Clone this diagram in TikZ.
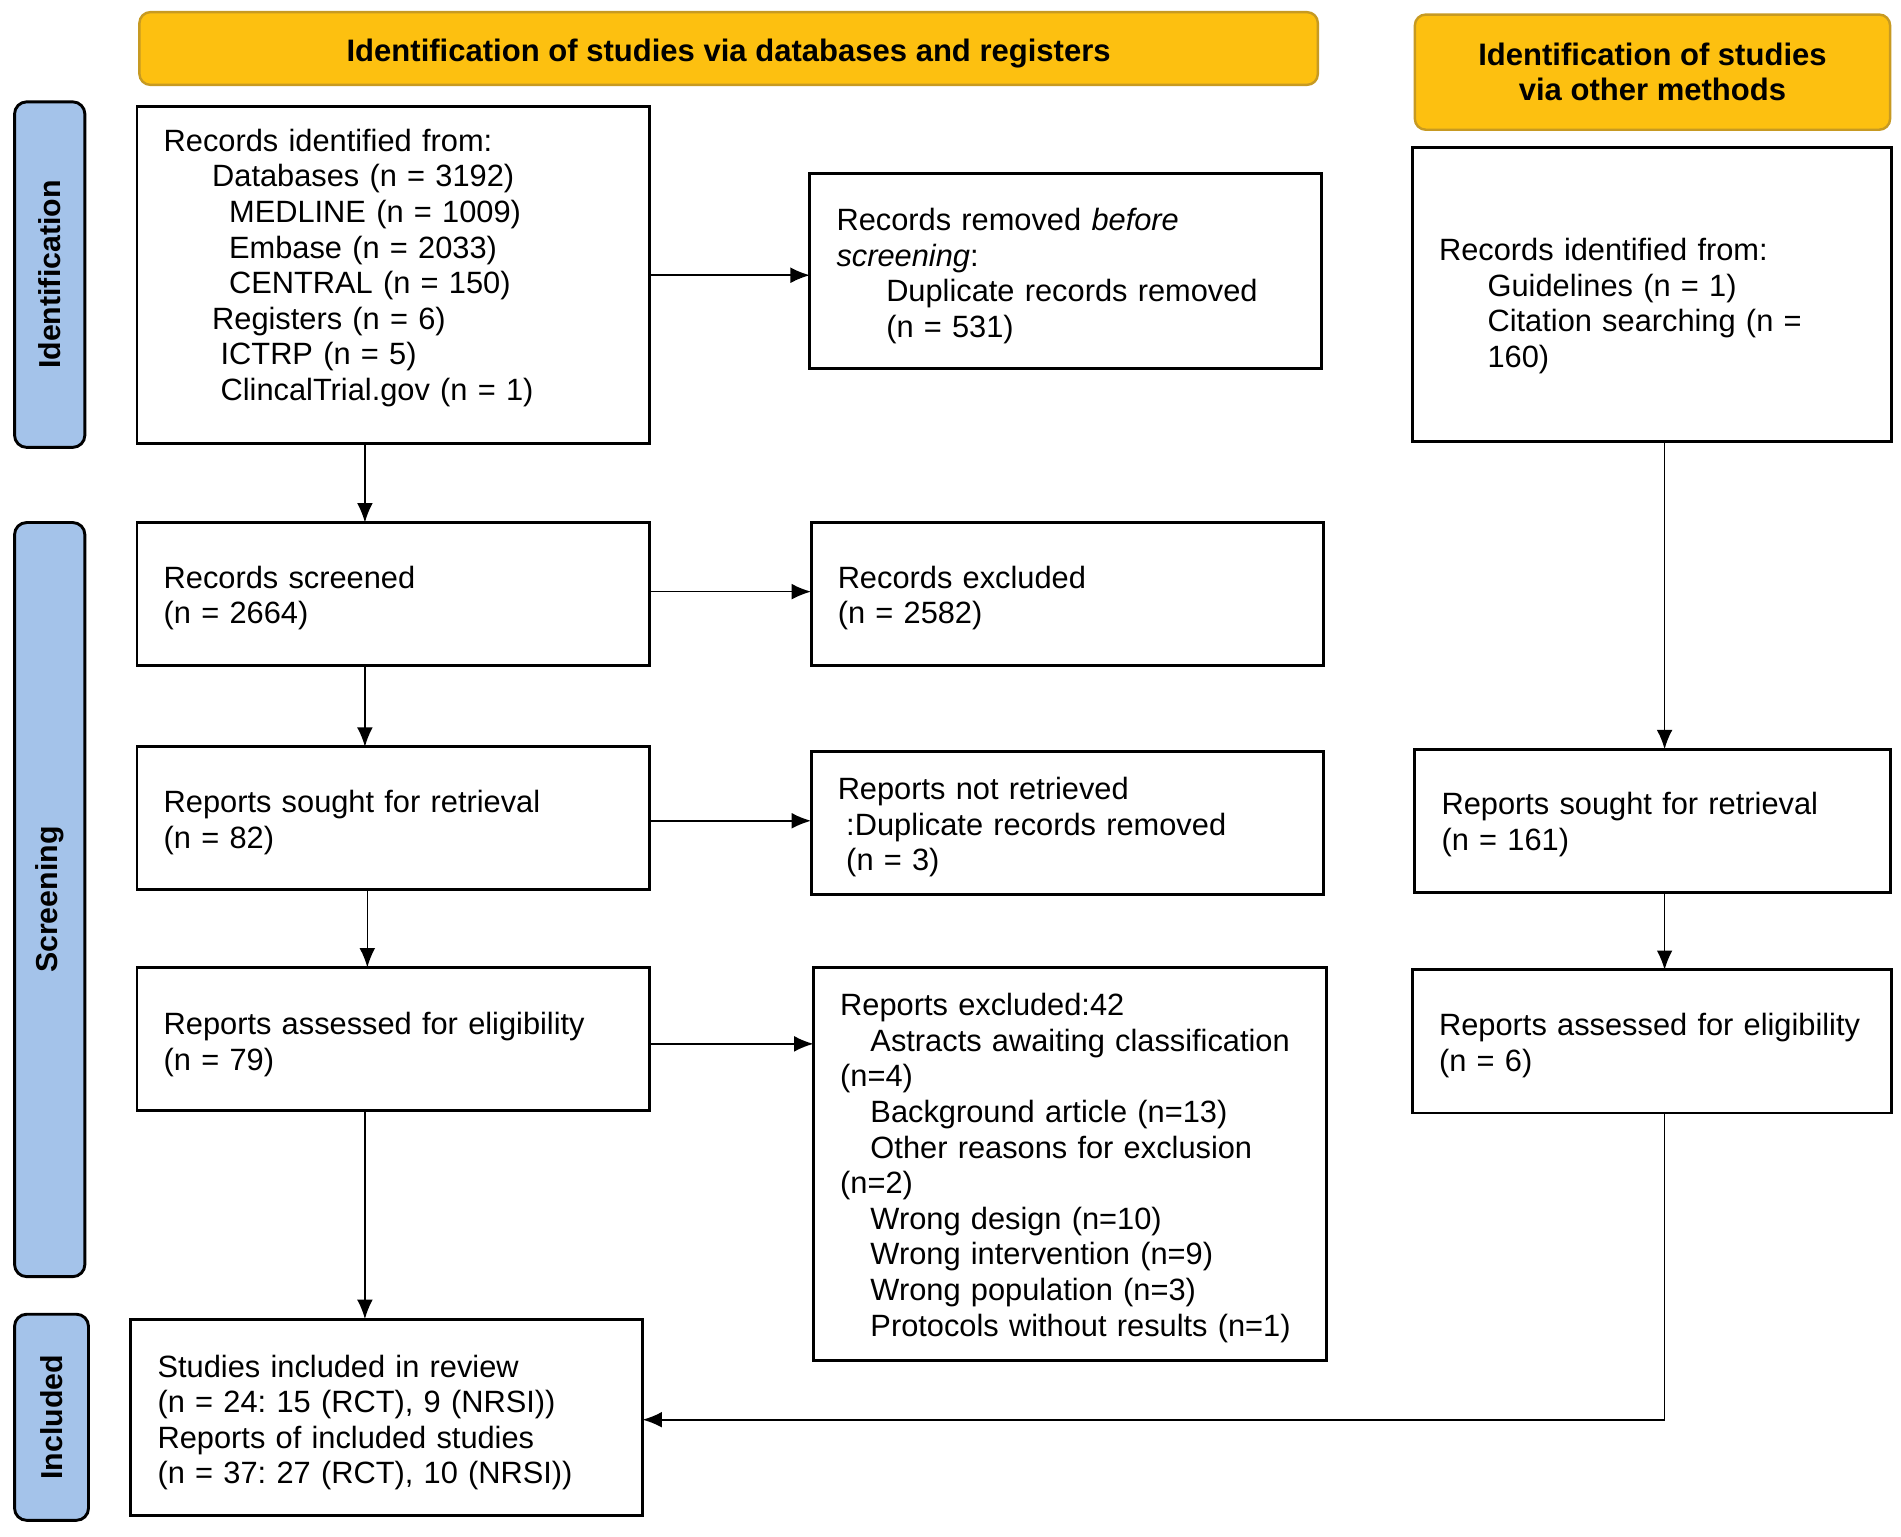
\documentclass[tikz,border=0pt]{standalone}
\usepackage{fontspec}
\setmainfont{Liberation Sans}
\usetikzlibrary{arrows.meta,calc}
\definecolor{hdrfill}{HTML}{FDC010}
\definecolor{hdrline}{HTML}{C79A22}
\definecolor{sidefill}{HTML}{A4C3EA}
% strut that pushes a centred text block down by #1 pt
\newcommand\pushdn[1]{\rule{0pt}{\dimexpr19pt+#1pt+#1pt\relax}}
% strut that pushes a centred text block up by #1 pt
\newcommand\pushup[1]{\rule[-\dimexpr5.4pt+#1pt+#1pt\relax]{0pt}{0pt}}
\frenchspacing
\begin{document}
\begin{tikzpicture}[x=1pt,y=1pt,
  every node/.style={inner sep=0pt, outer sep=0pt},
  box/.style={draw=black, line width=2.4pt, fill=white, inner xsep=22pt,
    align=left, font=\fontsize{25.4pt}{29.4pt}\selectfont\frenchspacing},
  hdr/.style={draw=hdrline, line width=2pt, fill=hdrfill, rounded corners=9pt,
    align=center, font=\fontsize{25.6pt}{29.2pt}\selectfont\bfseries},
  side/.style={draw=black, line width=2.4pt, fill=sidefill, rounded corners=10pt},
  sidetxt/.style={rotate=90, font=\fontsize{25pt}{29pt}\selectfont\bfseries},
  arr/.style={draw=black, line width=1.4pt, -{Latex[length=16pt,width=13pt]}},
  lnk/.style={draw=black, line width=1.4pt}
]
\useasboundingbox (0,0) rectangle (1568,-1267);

% headers
\node[hdr, minimum width=972pt, minimum height=60pt] (h1) at (601,-40) {\pushdn{4}Identification of studies via databases and registers};
\node[hdr, minimum width=392pt, minimum height=95pt] (h2) at (1363,-59.5) {Identification of studies\\via other methods};

% side bars
\node[side, minimum width=58pt, minimum height=285pt] (s1) at (41,-226.5) {};
\node[sidetxt] (s1t) at (s1.center) {Identification};
\node[side, minimum width=58pt, minimum height=622pt] (s2) at (41,-742) {};
\node[sidetxt] (s2t) at (s2.center) {Screening};
\node[side, minimum width=61pt, minimum height=170pt] (s3) at (42.5,-1169) {};
\node[sidetxt] (s3t) at (s3.center) {Included};

% left column
\node[box, text width=379pt, minimum height=278pt] (b1) at (324.5,-227) {Records identified from:\\
\hspace*{40pt}Databases (n = 3192)\\
\hspace*{54pt}MEDLINE (n = 1009)\\
\hspace*{54pt}Embase (n = 2033)\\
\hspace*{54pt}CENTRAL (n = 150)\\
\hspace*{40pt}Registers (n = 6)\\
\hspace*{47pt}ICTRP (n = 5)\\
\hspace*{47pt}ClincalTrial.gov (n = 1)\pushup{6}};

\node[box, text width=378pt, minimum height=161pt] (b2) at (879,-223.5) {\pushdn{4}Records removed \textit{before}\\
\textit{screening}:\\
\hspace*{41pt}Duplicate records removed\\
\hspace*{41pt}(n = 531)};

\node[box, text width=379pt, minimum height=118pt] (b3) at (324.5,-490) {\pushdn{3}Records screened\\(n = 2664)};
\node[box, text width=379pt, minimum height=118pt] (b4) at (880.5,-490) {\pushdn{3}Records excluded\\(n = 2582)};

\node[box, text width=379pt, minimum height=118pt] (b5) at (324.5,-675) {\pushdn{3}Reports sought for retrieval\\(n = 82)};
\node[box, text width=379pt, minimum height=118pt] (b6) at (880.5,-679) {\pushdn{3}Reports not retrieved\\
\hspace*{7pt}:Duplicate records removed\\
\hspace*{7pt}(n = 3)};

\node[box, text width=379pt, minimum height=118pt] (b7) at (324.5,-857) {\pushdn{4}Reports assessed for eligibility\\(n = 79)};
\node[box, text width=379pt, minimum height=324pt] (b8) at (882.5,-960) {\pushdn{3}Reports excluded:42\\
\hspace*{25pt}Astracts awaiting classification\\
(n=4)\\
\hspace*{25pt}Background article (n=13)\\
\hspace*{25pt}Other reasons for exclusion\\
(n=2)\\
\hspace*{25pt}Wrong design (n=10)\\
\hspace*{25pt}Wrong intervention (n=9)\\
\hspace*{25pt}Wrong population (n=3)\\
\hspace*{25pt}Protocols without results (n=1)};

\node[box, text width=378pt, minimum height=162pt] (b9) at (319,-1169) {\pushdn{4}Studies included in review\\
(n = 24: 15 (RCT), 9 (NRSI))\\
Reports of included studies\\
(n = 37: 27 (RCT), 10 (NRSI))};

% right column
\node[box, text width=351pt, minimum height=242pt] (r1) at (1362.5,-243) {\pushdn{9}Records identified from:\\
\hspace*{40pt}Guidelines (n = 1)\\
\hspace*{40pt}Citation searching (n =\\
\hspace*{40pt}160)};
\node[box, text width=348pt, minimum height=118pt] (r2) at (1363,-677) {\pushdn{3}Reports sought for retrieval\\(n = 161)};
\node[box, text width=351pt, minimum height=118pt] (r3) at (1362.5,-859) {\pushdn{3}Reports assessed for eligibility\\(n = 6)};

% connectors
\draw[arr] (b1.east) -- (b1.east -| b2.west);
\draw[arr] ([xshift=-23.5pt]b1.south) -- ([xshift=-23.5pt]b3.north);
\draw[arr] ([yshift=2pt]b3.east) -- ([yshift=2pt]b3.east -| b4.west);
\draw[arr] ([xshift=-23.5pt]b3.south) -- ([xshift=-23.5pt]b5.north);
\draw[arr] ([yshift=-2pt]b5.east) -- ([yshift=-2pt]b5.east -| b6.west);
\draw[arr] ([xshift=-21.5pt]b5.south) -- ([xshift=-21.5pt]b7.north);
\draw[arr] ([yshift=-4pt]b7.east) -- ([yshift=-4pt]b7.east -| b8.west);
\draw[arr] ([xshift=-23.5pt]b7.south) -- ([xshift=-18pt]b9.north);
\draw[arr] ([xshift=10.5pt]r1.south) -- ([xshift=10pt]r2.north);
\draw[arr] ([xshift=10pt]r2.south) -- ([xshift=10.5pt]r3.north);
\draw[arr] ([xshift=10.5pt]r3.south) |- ([yshift=-2pt]b9.east);
\end{tikzpicture}
\end{document}
